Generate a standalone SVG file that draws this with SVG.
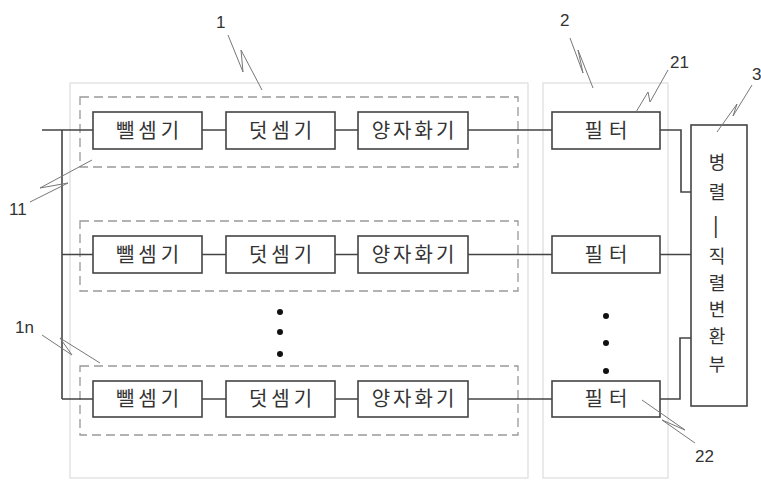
<svg xmlns="http://www.w3.org/2000/svg" width="761" height="480" viewBox="0 0 761 480">
<style>
.blk{fill:#fff;stroke:#444;stroke-width:1.6}
.grp{fill:none;stroke:#ddd;stroke-width:1.2}
.dash{fill:none;stroke:#999;stroke-width:1.3;stroke-dasharray:9 5}
.ln{fill:none;stroke:#444;stroke-width:1.6}
.ldr{fill:none;stroke:#777;stroke-width:1}
.t{font-family:"Noto Sans CJK KR","Noto Sans",sans-serif;font-size:20px;fill:#333;text-anchor:middle}
.v{font-family:"Noto Sans CJK KR",sans-serif;font-size:18px;fill:#333;text-anchor:middle}
.n{font-family:"Liberation Sans",Arial,sans-serif;font-size:17px;fill:#333}
.dot{fill:#111}
</style>
<rect width="761" height="480" fill="#fff"/>
<g id="group1"><rect class="grp" x="70" y="83" width="458" height="395"/></g>
<g id="group2"><rect class="grp" x="543" y="83" width="125" height="395"/></g>
<g id="row1box"><rect class="dash" x="80" y="97" width="438" height="70"/></g>
<g id="row2box"><rect class="dash" x="80" y="221" width="438" height="70"/></g>
<g id="rownbox"><rect class="dash" x="80" y="366" width="438" height="69"/></g>
<g id="connectors">
<path class="ln" d="M42,130H93 M62,130V399 M62,254.5H93 M62,399H93"/>
<path class="ln" d="M202,130H226 M335,130H358 M468,130H552"/>
<path class="ln" d="M202,254.5H226 M335,254.5H358 M468,254.5H552"/>
<path class="ln" d="M202,399H226 M335,399H358 M468,399H552"/>
<path class="ln" d="M660,130H681V192H691 M660,254.5H691 M660,399H680V338H691"/>
</g>
<g id="sub1"><rect class="blk" x="93" y="112" width="109" height="37"/><text class="t" x="149.5" y="138" letter-spacing="4">뺄셈기</text></g>
<g id="add1"><rect class="blk" x="226" y="112" width="109" height="37"/><text class="t" x="282.5" y="138" letter-spacing="4">덧셈기</text></g>
<g id="q1"><rect class="blk" x="358" y="112" width="110" height="37"/><text class="t" x="414.5" y="138" letter-spacing="3">양자화기</text></g>
<g id="sub2"><rect class="blk" x="93" y="236" width="109" height="37"/><text class="t" x="149.5" y="262" letter-spacing="4">뺄셈기</text></g>
<g id="add2"><rect class="blk" x="226" y="236" width="109" height="37"/><text class="t" x="282.5" y="262" letter-spacing="4">덧셈기</text></g>
<g id="q2"><rect class="blk" x="358" y="236" width="110" height="37"/><text class="t" x="414.5" y="262" letter-spacing="3">양자화기</text></g>
<g id="subn"><rect class="blk" x="93" y="381" width="109" height="36"/><text class="t" x="149.5" y="406" letter-spacing="4">뺄셈기</text></g>
<g id="addn"><rect class="blk" x="226" y="381" width="109" height="36"/><text class="t" x="282.5" y="406" letter-spacing="4">덧셈기</text></g>
<g id="qn"><rect class="blk" x="358" y="381" width="110" height="36"/><text class="t" x="414.5" y="406" letter-spacing="3">양자화기</text></g>
<g id="f1"><rect class="blk" x="552" y="112" width="108" height="37"/><text class="t" x="609" y="138" letter-spacing="6">필터</text></g>
<g id="f2"><rect class="blk" x="552" y="236" width="108" height="37"/><text class="t" x="609" y="262" letter-spacing="6">필터</text></g>
<g id="fn"><rect class="blk" x="552" y="381" width="108" height="36"/><text class="t" x="609" y="406" letter-spacing="6">필터</text></g>
<g id="ps"><rect class="blk" x="691" y="125" width="56" height="281"/>
<text class="v" x="717" y="169">병</text>
<text class="v" x="717" y="199">렬</text>
<text x="717" y="234" font-family="Liberation Sans, sans-serif" font-size="22" fill="#333" text-anchor="middle" transform="rotate(90 717 227)">—</text>
<text class="v" x="717" y="263">직</text>
<text class="v" x="717" y="290">렬</text>
<text class="v" x="717" y="316">변</text>
<text class="v" x="717" y="343">환</text>
<text class="v" x="717" y="371">부</text>
</g>
<g id="dots">
<circle class="dot" cx="280" cy="312" r="3"/><circle class="dot" cx="280" cy="332" r="3"/><circle class="dot" cx="280" cy="354" r="3"/>
<circle class="dot" cx="606" cy="316" r="3"/><circle class="dot" cx="606" cy="343" r="3"/><circle class="dot" cx="606" cy="371" r="3"/>
</g>
<g id="labels">
<text class="n" x="216" y="28">1</text>
<path class="ldr" d="M228,35L243,72L241,50L262,90"/>
<text class="n" x="560" y="26">2</text>
<path class="ldr" d="M570,38L583,73L578,50L593,88"/>
<text class="n" x="670" y="68">21</text>
<path class="ldr" d="M668,70L650,102L648,92L636,112"/>
<text class="n" x="752" y="80">3</text>
<path class="ldr" d="M752,85L733,116L737,104L717,132"/>
<text class="n" x="9" y="215">11</text>
<path class="ldr" d="M30,202L68,183L40,188L92,160"/>
<text class="n" x="15" y="333">1n</text>
<path class="ldr" d="M42,335L72,355L60,338L100,363"/>
<text class="n" x="695" y="462">22</text>
<path class="ldr" d="M695,443L662,420L685,430L642,400"/>
</g>
</svg>
